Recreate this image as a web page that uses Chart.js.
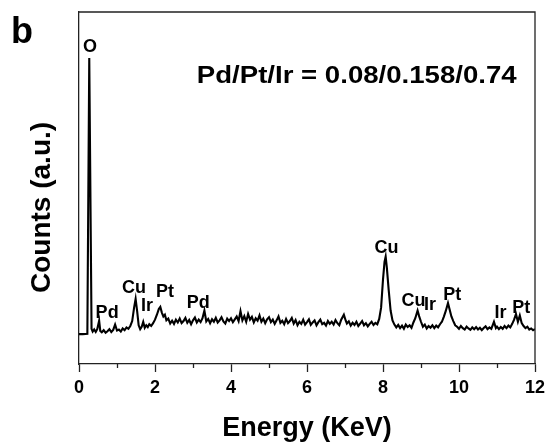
<!DOCTYPE html>
<html>
<head>
<meta charset="utf-8">
<script src="https://cdn.jsdelivr.net/npm/chart.js@4.4.1/dist/chart.umd.min.js"></script>
<style>
  html, body { margin: 0; padding: 0; background: #fff; }
  #wrap { width: 551px; height: 445px; }
</style>
</head>
<body>
<div id="wrap"><canvas id="eds"></canvas></div>
<script>
// ------------------------------------------------------------
// EDS spectrum (panel b) — energy vs counts
// ------------------------------------------------------------

const energyKeV = [
  0.00, 0.10, 0.22, 0.27, 0.33, 0.36, 0.40, 0.44, 0.48, 0.53,
  0.56, 0.60, 0.65, 0.70, 0.75, 0.80, 0.85, 0.90, 0.95, 1.00,
  1.05, 1.10, 1.15, 1.20, 1.25, 1.30, 1.35, 1.40, 1.45, 1.49,
  1.53, 1.57, 1.61, 1.65, 1.69, 1.73, 1.77, 1.81, 1.85, 1.90,
  1.95, 2.00, 2.05, 2.10, 2.14, 2.18, 2.22, 2.26, 2.30, 2.35,
  2.40, 2.45, 2.50, 2.55, 2.60, 2.65, 2.70, 2.75, 2.80, 2.85,
  2.90, 2.95, 3.00, 3.05, 3.10, 3.15, 3.20, 3.25, 3.30, 3.35,
  3.40, 3.45, 3.50, 3.55, 3.60, 3.65, 3.70, 3.75, 3.80, 3.85,
  3.90, 3.95, 4.00, 4.05, 4.10, 4.15, 4.20, 4.25, 4.30, 4.35,
  4.40, 4.45, 4.50, 4.55, 4.60, 4.65, 4.70, 4.75, 4.80, 4.85,
  4.90, 4.95, 5.00, 5.05, 5.10, 5.15, 5.20, 5.25, 5.30, 5.35,
  5.40, 5.45, 5.50, 5.55, 5.60, 5.65, 5.70, 5.75, 5.80, 5.85,
  5.90, 5.95, 6.00, 6.05, 6.10, 6.15, 6.20, 6.25, 6.30, 6.35,
  6.40, 6.45, 6.50, 6.55, 6.60, 6.65, 6.70, 6.75, 6.80, 6.85,
  6.90, 6.97, 7.02, 7.05, 7.10, 7.15, 7.20, 7.25, 7.30, 7.35,
  7.40, 7.45, 7.50, 7.55, 7.60, 7.65, 7.70, 7.75, 7.80, 7.85,
  7.90, 7.95, 8.00, 8.04, 8.07, 8.10, 8.15, 8.20, 8.25, 8.30,
  8.35, 8.40, 8.45, 8.50, 8.55, 8.60, 8.65, 8.70, 8.75, 8.80,
  8.85, 8.91, 8.95, 9.00, 9.05, 9.10, 9.15, 9.20, 9.25, 9.30,
  9.35, 9.40, 9.45, 9.50, 9.55, 9.60, 9.65, 9.71, 9.75, 9.80,
  9.85, 9.90, 9.95, 10.00, 10.05, 10.10, 10.15, 10.20, 10.25, 10.30,
  10.35, 10.40, 10.45, 10.50, 10.55, 10.60, 10.65, 10.70, 10.75, 10.80,
  10.85, 10.92, 10.97, 11.00, 11.05, 11.10, 11.15, 11.20, 11.25, 11.30,
  11.35, 11.40, 11.45, 11.50, 11.55, 11.60, 11.65, 11.70, 11.75, 11.80,
  11.85, 11.90, 11.95, 12.00
];

const counts = [
  8.5, 8.5, 8.6, 86.9, 10.0, 9.2, 9.8, 9.1, 9.9, 12.3,
  9.4, 9.0, 9.6, 8.9, 9.3, 9.9, 9.1, 9.7, 11.2, 9.5,
  9.8, 9.2, 10.1, 9.6, 10.4, 10.0, 10.8, 12.2, 16.0, 18.5,
  15.0, 11.0, 9.9, 10.6, 12.0, 10.3, 11.0, 10.5, 11.3, 10.8,
  11.6, 12.6, 14.0, 15.6, 16.2, 14.6, 13.5, 14.0, 12.4, 12.9,
  11.5, 12.3, 11.4, 12.6, 11.8, 12.9, 11.6, 12.2, 13.1, 11.7,
  12.5, 11.3, 12.4, 13.2, 11.8, 12.6, 11.9, 13.0, 15.2, 12.1,
  12.8, 11.6, 12.7, 12.0, 13.1, 11.8, 12.4, 13.3, 12.1, 11.5,
  12.9, 12.2, 13.0, 11.9, 12.7, 13.5, 12.2, 15.0, 12.4, 13.6,
  12.0, 14.2, 12.6, 13.4, 11.8, 13.0, 12.3, 13.8, 12.0, 12.9,
  11.6, 12.7, 13.3, 11.9, 12.6, 11.4, 12.4, 13.5, 11.7, 12.3,
  11.3, 12.8, 11.6, 12.2, 13.1, 11.5, 12.5, 11.0, 12.0, 11.4,
  12.6, 11.2, 11.9, 12.7, 11.1, 11.8, 12.4, 11.0, 11.9, 12.6,
  11.3, 11.7, 10.9, 12.2, 11.4, 12.0, 11.2, 12.5, 11.6, 11.0,
  12.6, 14.0, 12.3, 11.5, 12.1, 10.9, 11.7, 11.1, 12.0, 10.8,
  11.5, 12.2, 11.0, 11.6, 10.7, 11.4, 12.0, 11.1, 11.7, 11.3,
  12.8, 16.0, 24.0, 29.0, 30.5, 27.5, 21.0, 15.2, 12.4, 11.2,
  10.4, 11.1, 10.2, 10.9, 10.0, 11.2, 10.5, 11.0, 10.3, 11.8,
  13.0, 15.2, 13.6, 12.0, 10.6, 11.2, 10.1, 10.8, 10.3, 11.0,
  10.2, 10.9, 10.4, 11.3, 12.0, 13.4, 15.0, 17.3, 15.6, 13.5,
  12.2, 11.0, 10.6, 10.0, 10.8, 10.2, 9.8, 10.6, 10.1, 9.7,
  10.4, 9.9, 10.5, 9.8, 10.3, 9.6, 10.2, 10.7, 9.9, 10.4,
  10.0, 12.0, 10.2, 10.6, 9.9, 10.5, 10.0, 10.8, 10.2, 10.9,
  10.4, 11.4, 12.6, 14.2, 12.0, 13.8, 11.6, 10.8, 10.2, 10.6,
  9.8, 10.1, 9.6, 9.9
];

// element labels placed above the peaks (energy, label baseline height)
const peakNames  = ['O', 'Pd', 'Cu', 'Ir', 'Pt', 'Pd', 'Cu', 'Cu', 'Ir', 'Pt', 'Ir', 'Pt'];
const peakEnergy = [0.29, 0.74, 1.45, 1.79, 2.26, 3.14, 8.09, 8.80, 9.24, 9.82, 11.09, 11.64];
const peakLabelY = [88.6, 13.1, 20.2, 15.1, 19.0, 15.9, 31.5, 16.5, 15.3, 18.2, 13.1, 14.5];

const majorTicks = [0, 2, 4, 6, 8, 10, 12];
const minorTicks = [1, 3, 5, 7, 9, 11];

const panelLetter = 'b';
const ratioText = 'Pd/Pt/Ir = 0.08/0.158/0.74';
const ratioAt = { e: 3.10, c: 79.7 };

const fontFamily = "'Liberation Sans', Arial, sans-serif";
const ink = '#000';

// Frame on top/right, minor ticks, peak names and the text annotations
const annotate = {
  id: 'annotate',
  afterDraw(chart) {
    const { ctx, chartArea: a, scales: { x, y } } = chart;
    ctx.save();

    // top + right edges of the box
    ctx.strokeStyle = '#222';
    ctx.lineWidth = 1.3;
    ctx.beginPath();
    ctx.moveTo(a.left, a.top);
    ctx.lineTo(a.right, a.top);
    ctx.lineTo(a.right, a.bottom);
    ctx.stroke();

    // short minor ticks on the energy axis
    minorTicks.forEach((v) => {
      const px = Math.round(x.getPixelForValue(v)) + 0.5;
      ctx.beginPath();
      ctx.moveTo(px, a.bottom);
      ctx.lineTo(px, a.bottom + 4);
      ctx.stroke();
    });

    // element labels
    ctx.fillStyle = ink;
    ctx.font = `bold 18px ${fontFamily}`;
    ctx.textAlign = 'center';
    ctx.textBaseline = 'alphabetic';
    peakNames.forEach((name, i) => {
      ctx.fillText(name, x.getPixelForValue(peakEnergy[i]), y.getPixelForValue(peakLabelY[i]));
    });

    // composition ratio (a touch wide in the original)
    ctx.font = `bold 23px ${fontFamily}`;
    ctx.textAlign = 'left';
    ctx.translate(x.getPixelForValue(ratioAt.e), y.getPixelForValue(ratioAt.c));
    ctx.scale(1.2, 1);
    ctx.fillText(ratioText, 0, 0);
    ctx.setTransform(1, 0, 0, 1, 0, 0);

    // panel letter
    ctx.font = `bold 36px ${fontFamily}`;
    ctx.fillText(panelLetter, 11, 43);

    ctx.restore();
  }
};

new Chart(document.getElementById('eds'), {
  type: 'line',
  data: {
    datasets: [{
      label: 'EDS',
      data: energyKeV.map((e, i) => ({ x: e, y: counts[i] })),
      borderColor: ink,
      borderWidth: 2.1,
      pointRadius: 0,
      tension: 0,
      fill: false
    }]
  },
  options: {
    responsive: true,
    maintainAspectRatio: false,
    animation: false,
    devicePixelRatio: 1,
    layout: { padding: { left: 0, right: 16, top: 12, bottom: 0 } },
    plugins: {
      legend: { display: false },
      tooltip: { enabled: false }
    },
    scales: {
      x: {
        type: 'linear',
        min: 0,
        max: 12,
        afterBuildTicks: (scale) => {
          scale.ticks = majorTicks.map((v) => ({ value: v }));
        },
        afterFit: (scale) => { scale.height = 81; },
        border: { display: true, color: '#222', width: 1.3 },
        grid: {
          display: true,
          drawOnChartArea: false,
          drawTicks: true,
          tickLength: 8,
          tickColor: '#222',
          tickWidth: 1.3
        },
        ticks: {
          color: ink,
          padding: 5,
          maxRotation: 0,
          autoSkip: false,
          font: { family: fontFamily, size: 18, weight: 'bold' }
        },
        title: {
          display: true,
          text: 'Energy (KeV)',
          color: ink,
          padding: { top: 0, bottom: 0 },
          font: { family: fontFamily, size: 27, weight: 'bold' }
        }
      },
      y: {
        min: 0,
        max: 100,
        afterFit: (scale) => { scale.width = 79; },
        border: { display: true, color: '#222', width: 1.3 },
        grid: { display: false },
        ticks: { display: false },
        title: {
          display: true,
          text: 'Counts (a.u.)     ',
          color: ink,
          padding: { top: 25, bottom: 0 },
          font: { family: fontFamily, size: 28, weight: 'bold' }
        }
      }
    }
  },
  plugins: [annotate]
});
</script>
</body>
</html>
